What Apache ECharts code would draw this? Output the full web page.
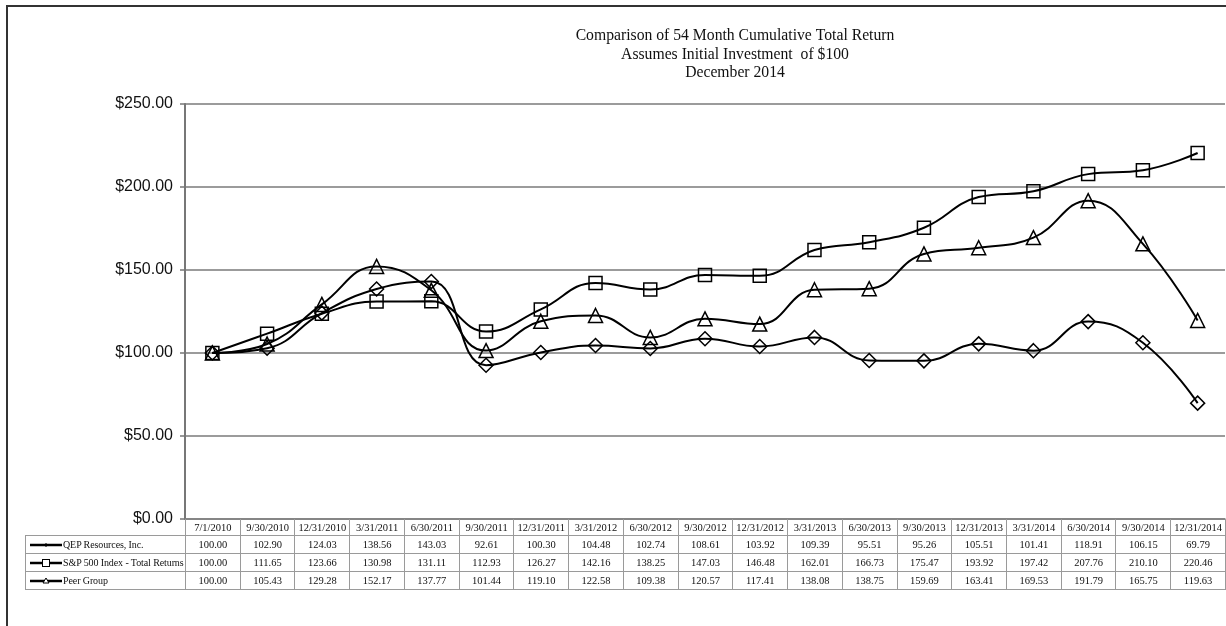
<!DOCTYPE html>
<html>
<head>
<meta charset="utf-8">
<script src="https://cdn.jsdelivr.net/npm/echarts@6/dist/echarts.min.js"></script>
<style>
  html, body { margin:0; padding:0; background:#fff; }
  #wrap { position:relative; width:1226px; height:626px; overflow:hidden; }
  #frame { position:absolute; left:6px; top:5px; width:1240px; height:640px; border-left:2px solid #333; border-top:2px solid #333; }
  #chart { position:absolute; left:0; top:0; width:1226px; height:626px; }
  #tbl { position:absolute; left:25px; top:519px; width:1200px; border-collapse:collapse; table-layout:fixed; font-family:"Liberation Serif","Times New Roman",serif; font-size:10.5px; color:#111; }
  #tbl td { border:1px solid #9a9a9a; padding:0; text-align:center; white-space:nowrap; overflow:hidden; }
  #tbl tr.hd td { height:16px; border-top:none; }
  #tbl tr.hd td.blank { border:none; border-bottom:1px solid #9a9a9a; }
  #tbl tr.rw td { height:17px; }
  #tbl td.lab { text-align:left; padding-left:3px; font-size:10px; letter-spacing:-0.1px; }
  #tbl td.lab svg { vertical-align:middle; margin-right:0; }
</style>
</head>
<body>
<div id="wrap">
  <div id="frame"></div>
  <div id="chart"></div>
  <table id="tbl"></table>
</div>
<script>
const categories = ["7/1/2010","9/30/2010","12/31/2010","3/31/2011","6/30/2011","9/30/2011","12/31/2011","3/31/2012","6/30/2012","9/30/2012","12/31/2012","3/31/2013","6/30/2013","9/30/2013","12/31/2013","3/31/2014","6/30/2014","9/30/2014","12/31/2014"];
const qep = [100.00,102.90,124.03,138.56,143.03,92.61,100.30,104.48,102.74,108.61,103.92,109.39,95.51,95.26,105.51,101.41,118.91,106.15,69.79];
const sp500 = [100.00,111.65,123.66,130.98,131.11,112.93,126.27,142.16,138.25,147.03,146.48,162.01,166.73,175.47,193.92,197.42,207.76,210.10,220.46];
const peer = [100.00,105.43,129.28,152.17,137.77,101.44,119.10,122.58,109.38,120.57,117.41,138.08,138.75,159.69,163.41,169.53,191.79,165.75,119.63];
const seriesNames = ["QEP Resources, Inc.","S&P 500 Index - Total Returns","Peer Group"];
const yTicks = [0,50,100,150,200,250];
const titleLines = ["Comparison of 54 Month Cumulative Total Return","Assumes Initial Investment  of $100","December 2014"];

const chart = echarts.init(document.getElementById('chart'), null, {renderer:'canvas'});
function mkSeries(name, data, symbol, size) {
  return {
    name: name, type:'line', data: data, smooth: 0.45,
    symbol: symbol, symbolSize: size,
    lineStyle: { color:'#000', width:2 },
    itemStyle: { color:'rgba(255,255,255,0)', borderColor:'#000', borderWidth:1.5 },
    emphasis: { disabled:true }, z: 3
  };
}
chart.setOption({
  animation:false,
  backgroundColor:'transparent',
  title: {
    text: titleLines.join('\n'),
    left: 730, top: 22, textAlign:'center',
    textStyle: { fontFamily:'Liberation Serif', fontSize:15.7, fontWeight:'normal', color:'#111', lineHeight:18.5 }
  },
  grid: { left:185, right:1, top:104, bottom:107, containLabel:false },
  xAxis: {
    type:'category', data: categories, boundaryGap:true,
    axisLine:{ show:true, lineStyle:{ color:'#808080', width:1.5 } },
    axisTick:{ show:false }, axisLabel:{ show:false }, splitLine:{ show:false }
  },
  yAxis: {
    type:'value', min: yTicks[0], max: yTicks[yTicks.length-1], interval: 50,
    axisLine:{ show:true, lineStyle:{ color:'#777', width:2 } },
    axisTick:{ show:true, length:5, lineStyle:{ color:'#777', width:1.5 } },
    axisLabel:{ formatter: v => '$' + v.toFixed(2), fontFamily:'Liberation Sans', fontSize:16, color:'#111', margin:12 },
    splitLine:{ show:true, lineStyle:{ color:'#7a7a7a', width:1.5 } }
  },
  series: [
    mkSeries(seriesNames[0], qep, 'diamond', 14),
    mkSeries(seriesNames[1], sp500, 'rect', 13),
    mkSeries(seriesNames[2], peer, 'triangle', 14)
  ]
});

// data table
const colW = 1040 / categories.length;
const tbl = document.getElementById('tbl');
let html = '<colgroup><col style="width:160px">' + categories.map(() => '<col style="width:' + colW + 'px">').join('') + '</colgroup>';
html += '<tr class="hd"><td class="blank"></td>' + categories.map(c => '<td>' + c + '</td>').join('') + '</tr>';
const icons = [
  '<svg width="34" height="10"><line x1="1" y1="5" x2="33" y2="5" stroke="#000" stroke-width="2.5"/><polygon points="17,3 19,5 17,7 15,5" fill="#000"/></svg>',
  '<svg width="34" height="10"><line x1="1" y1="5" x2="33" y2="5" stroke="#000" stroke-width="2.5"/><rect x="13.5" y="1.5" width="7" height="7" fill="#fff" stroke="#000" stroke-width="1"/></svg>',
  '<svg width="34" height="10"><line x1="1" y1="5" x2="33" y2="5" stroke="#000" stroke-width="2.5"/><polygon points="17,2 20,7 14,7" fill="#fff" stroke="#000" stroke-width="1"/></svg>'
];
[qep, sp500, peer].forEach((arr, i) => {
  html += '<tr class="rw"><td class="lab">' + icons[i] + seriesNames[i] + '</td>' + arr.map(v => '<td>' + v.toFixed(2) + '</td>').join('') + '</tr>';
});
tbl.innerHTML = html;
</script>
</body>
</html>
